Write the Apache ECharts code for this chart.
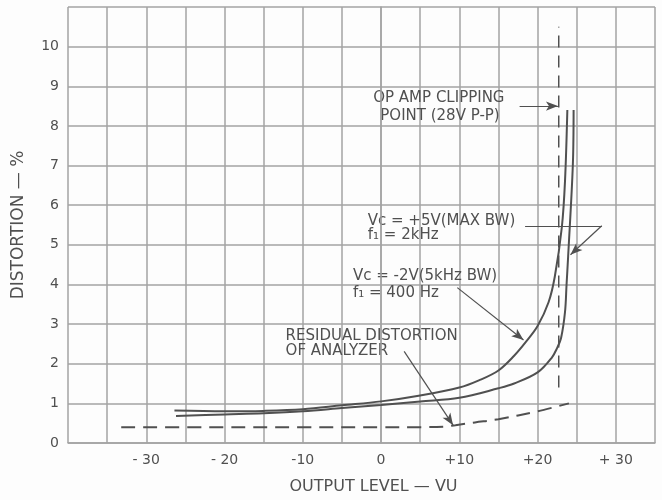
<!DOCTYPE html>
<html>
<head>
<meta charset="utf-8">
<script src="https://cdn.jsdelivr.net/npm/echarts@6/dist/echarts.min.js"></script>
<style>
  html, body { margin: 0; padding: 0; background: #fdfdfd; }
  #chart { width: 662px; height: 500px; }
</style>
</head>
<body>
<div id="chart"></div>
<script>
// tick labels
const xTickValues = [-30, -20, -10, 0, 10, 20, 30];
const xTickLabels = ['- 30', '- 20', '-10', '0', '+10', '+20', '+ 30'];
const yTickValues = [0, 1, 2, 3, 4, 5, 6, 7, 8, 9, 10];

// Vc = -2V (5kHz BW), f1 = 400 Hz
const vcMinus2 = [
  [-26.4, 0.82], [-20, 0.8], [-15, 0.81], [-10, 0.85], [-5, 0.95], [0, 1.05],
  [5, 1.2], [10, 1.4], [12.5, 1.58], [15, 1.83], [17, 2.2], [18.5, 2.55], [20, 2.95],
  [21.4, 3.55], [22.2, 4.2], [23.1, 5.45], [23.5, 6.6], [23.8, 8.4]
];
// Vc = +5V (MAX BW), f1 = 2kHz
const vcPlus5 = [
  [-26.2, 0.68], [-20, 0.72], [-15, 0.75], [-10, 0.8], [-5, 0.88], [0, 0.96],
  [5, 1.05], [10, 1.14], [15, 1.38], [17, 1.5], [20, 1.78], [21.8, 2.15],
  [22.5, 2.4], [23, 2.65], [23.5, 3.3], [23.7, 4.0], [23.9, 4.7], [24.5, 7.0], [24.6, 8.4]
];
// residual distortion of analyzer
const residual = [
  [-33.2, 0.4], [-20, 0.4], [-10, 0.4], [0, 0.4], [5, 0.4], [8, 0.41], [9.5, 0.45],
  [12, 0.52], [15, 0.6], [20, 0.8], [24, 1.0]
];
// op amp clipping point
const clipLine = [[22.7, 1.4], [22.7, 10.5]];

const ink = '#505050';
const gridColor = '#a3a3a3';
const font = 'DejaVu Sans';

// annotation text, left edge at [x, y] in axis units
const notes = [
  { text: 'OP AMP CLIPPING', at: [-1.0, 8.69] },
  { text: 'POINT (28V P-P)', at: [-0.1, 8.24] },
  { text: 'Vc = +5V(MAX BW)', at: [-1.7, 5.6] },
  { text: 'f\u2081 = 2kHz', at: [-1.7, 5.25] },
  { text: 'Vc = -2V(5kHz BW)', at: [-3.6, 4.22] },
  { text: 'f\u2081 = 400 Hz', at: [-3.6, 3.77] },
  { text: 'RESIDUAL DISTORTION', at: [-12.2, 2.69] },
  { text: 'OF ANALYZER', at: [-12.2, 2.31] }
];

const leaderStyle = { color: ink, width: 1.2, type: 'solid' };
const arrow = (from, to) => [{ coord: from }, { coord: to }];
const plain = (from, to) => [{ coord: from, symbol: 'none' }, { coord: to, symbol: 'none' }];

const chart = echarts.init(document.getElementById('chart'), null, { renderer: 'canvas' });

const option = {
  backgroundColor: '#fdfdfd',
  animation: false,
  grid: { left: 68, right: 7, top: 7, bottom: 55 },
  xAxis: {
    type: 'value',
    min: -40, max: 35, interval: 5,
    name: 'OUTPUT LEVEL \u2014 VU',
    nameLocation: 'middle',
    nameGap: 36,
    nameTextStyle: { fontFamily: font, fontSize: 16, color: ink, padding: [0, 0, 0, 24] },
    axisLine: { show: true, lineStyle: { color: gridColor, width: 1.5 } },
    axisTick: { show: false },
    axisLabel: {
      margin: 10,
      fontFamily: font, fontSize: 14, color: ink,
      formatter: v => {
        const i = xTickValues.indexOf(v);
        return i >= 0 ? xTickLabels[i] : '';
      }
    },
    splitLine: { show: true, lineStyle: { color: gridColor, width: 1.5 } }
  },
  yAxis: {
    type: 'value',
    min: 0, max: 11, interval: 1,
    name: 'DISTORTION \u2014 %',
    nameLocation: 'middle',
    nameGap: 41,
    nameTextStyle: { fontFamily: font, fontSize: 17, color: ink },
    axisLine: { show: true, lineStyle: { color: gridColor, width: 1.5 } },
    axisTick: { show: false },
    axisLabel: {
      margin: 9,
      fontFamily: font, fontSize: 14, color: ink,
      formatter: v => (yTickValues.indexOf(v) >= 0 ? String(v) : '')
    },
    splitLine: { show: true, lineStyle: { color: gridColor, width: 1.5 } }
  },
  series: [
    {
      name: 'Vc = -2V', type: 'line', data: vcMinus2,
      showSymbol: false, smooth: 0.35,
      lineStyle: { color: ink, width: 2 },
      markLine: {
        silent: true, animation: false,
        symbol: ['none', 'arrow'], symbolSize: [7, 12],
        label: { show: false }, lineStyle: leaderStyle,
        data: [arrow([9.74, 3.92], [18.2, 2.6])]
      }
    },
    {
      name: 'Vc = +5V', type: 'line', data: vcPlus5,
      showSymbol: false, smooth: 0.35,
      lineStyle: { color: ink, width: 2 },
      markLine: {
        silent: true, animation: false,
        symbol: ['none', 'arrow'], symbolSize: [7, 12],
        label: { show: false }, lineStyle: leaderStyle,
        data: [plain([18.4, 5.48], [28.2, 5.48]), arrow([28.2, 5.48], [24.2, 4.75])]
      }
    },
    {
      name: 'Residual', type: 'line', data: residual,
      showSymbol: false, smooth: 0.35,
      lineStyle: { color: ink, width: 2, type: [14, 8] },
      markLine: {
        silent: true, animation: false,
        symbol: ['none', 'arrow'], symbolSize: [7, 12],
        label: { show: false }, lineStyle: leaderStyle,
        data: [arrow([2.95, 2.31], [9.2, 0.45])]
      }
    },
    {
      name: 'Clipping', type: 'line', data: clipLine,
      showSymbol: false,
      lineStyle: { color: ink, width: 1.5, type: [12, 8] },
      markLine: {
        silent: true, animation: false,
        symbol: ['none', 'arrow'], symbolSize: [7, 12],
        label: { show: false }, lineStyle: leaderStyle,
        data: [arrow([17.7, 8.5], [22.6, 8.5])]
      }
    }
  ]
};

chart.setOption(option);

chart.setOption({
  graphic: notes.map(n => {
    const p = chart.convertToPixel({ gridIndex: 0 }, n.at);
    return {
      type: 'text', x: p[0], y: p[1], silent: true,
      style: {
        text: n.text, fill: ink, fontFamily: font, fontSize: 15,
        textAlign: 'left', textVerticalAlign: 'middle'
      }
    };
  })
});

window.addEventListener('resize', chart.resize);
</script>
</body>
</html>
